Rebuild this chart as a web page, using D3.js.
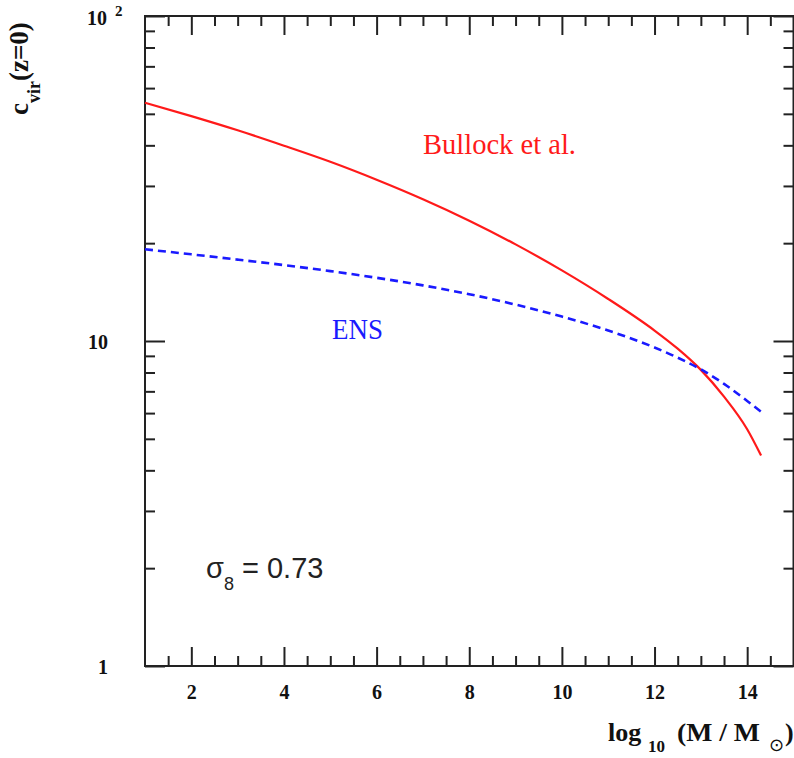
<!DOCTYPE html>
<html>
<head>
<meta charset="utf-8">
<script src="https://cdn.jsdelivr.net/npm/d3@7/dist/d3.min.js"></script>
<style>
  html, body { margin: 0; padding: 0; background: #fff; }
  svg { display: block; }
</style>
</head>
<body>
<svg id="chart" width="794" height="758"></svg>
<script>
// log10 of halo mass (solar masses)
const logMass = [1, 2, 3, 4, 5, 6, 7, 8, 9, 10, 11, 12, 12.5, 13, 13.5, 14, 14.3];
// virial concentration at z = 0
const cvirBullock = [54.1, 49.2, 44.5, 39.9, 35.6, 31.35, 27.3, 23.45, 19.83, 16.49, 13.47, 10.77, 9.47, 8.15, 6.74, 5.35, 4.44];
const cvirENS     = [19.15, 18.48, 17.80, 17.12, 16.41, 15.65, 14.83, 13.93, 12.94, 11.89, 10.77, 9.55, 8.89, 8.18, 7.38, 6.54, 6.06];

const xMajorTicks = [2, 4, 6, 8, 10, 12, 14];
const xMinorTicks = [1.5, 2.5, 3, 3.5, 4.5, 5, 5.5, 6.5, 7, 7.5, 8.5, 9, 9.5, 10.5, 11, 11.5, 12.5, 13, 13.5, 14.5];
const xTickLabels = ["2", "4", "6", "8", "10", "12", "14"];
const yMajorTicks = [1, 10, 100];
const yMinorTicks = [2, 3, 4, 5, 6, 7, 8, 9, 20, 30, 40, 50, 60, 70, 80, 90];
const yTickLabels = ["1", "10", "10"];

const plotLeft = 145, plotRight = 793.5, plotTop = 16, plotBottom = 666;
const svg = d3.select("#chart");

const x = d3.scaleLinear().domain([1, 15]).range([plotLeft, plotRight]);
const y = d3.scaleLog().domain([1, 100]).range([plotBottom, plotTop]);

const axisColor = "#222";
const serif = "'Liberation Serif', 'Times New Roman', serif";

function styleAxis(g) {
  g.select(".domain").remove();
  g.selectAll(".tick line").attr("stroke", axisColor).attr("stroke-width", 2);
  g.selectAll("text").attr("fill", "#111").attr("font-family", serif)
    .attr("font-weight", "bold").attr("font-size", 20);
}

// bottom axis: labelled major ticks plus minor ticks, all pointing inward
const gBottom = svg.append("g").attr("transform", `translate(0,${plotBottom})`)
  .call(d3.axisBottom(x).tickValues(xMajorTicks).tickSizeInner(-19).tickSizeOuter(0)
    .tickPadding(0).tickFormat((d, i) => xTickLabels[i]))
  .call(styleAxis);
gBottom.selectAll("text").attr("y", 33).attr("dy", 0);
svg.append("g").attr("transform", `translate(0,${plotBottom})`)
  .call(d3.axisBottom(x).tickValues(xMinorTicks).tickSizeInner(-10).tickSizeOuter(0).tickFormat(""))
  .call(styleAxis);

// top axis (ticks only)
svg.append("g").attr("transform", `translate(0,${plotTop})`)
  .call(d3.axisTop(x).tickValues(xMajorTicks).tickSizeInner(-19).tickSizeOuter(0).tickFormat(""))
  .call(styleAxis);
svg.append("g").attr("transform", `translate(0,${plotTop})`)
  .call(d3.axisTop(x).tickValues(xMinorTicks).tickSizeInner(-10).tickSizeOuter(0).tickFormat(""))
  .call(styleAxis);

// left axis with decade labels
const gLeft = svg.append("g").attr("transform", `translate(${plotLeft},0)`)
  .call(d3.axisLeft(y).tickValues(yMajorTicks).tickSizeInner(-20).tickSizeOuter(0)
    .tickPadding(37).tickFormat((d, i) => yTickLabels[i]))
  .call(styleAxis);
gLeft.selectAll(".tick text").attr("dy", "0.36em");
// the top decade is written as 10 with a raised exponent
gLeft.selectAll(".tick text").filter(d => d === 100)
  .attr("text-anchor", "start").attr("x", -58).attr("dy", 8)
  .append("tspan").attr("dx", 8).attr("dy", -9).attr("font-size", 15).text("2");
svg.append("g").attr("transform", `translate(${plotLeft},0)`)
  .call(d3.axisLeft(y).tickValues(yMinorTicks).tickSizeInner(-10).tickSizeOuter(0).tickFormat(""))
  .call(styleAxis);

// right axis (ticks only)
svg.append("g").attr("transform", `translate(${plotRight},0)`)
  .call(d3.axisRight(y).tickValues(yMajorTicks).tickSizeInner(-20).tickSizeOuter(0).tickFormat(""))
  .call(styleAxis);
svg.append("g").attr("transform", `translate(${plotRight},0)`)
  .call(d3.axisRight(y).tickValues(yMinorTicks).tickSizeInner(-10).tickSizeOuter(0).tickFormat(""))
  .call(styleAxis);

// frame
svg.append("rect").attr("x", plotLeft).attr("y", plotTop)
  .attr("width", plotRight - plotLeft).attr("height", plotBottom - plotTop)
  .attr("fill", "none").attr("stroke", axisColor).attr("stroke-width", 2);

// curves
const line = d3.line().x(d => x(d[0])).y(d => y(d[1])).curve(d3.curveMonotoneX);
svg.append("path").datum(logMass.map((m, i) => [m, cvirBullock[i]]))
  .attr("d", line).attr("fill", "none").attr("stroke", "#ff1a1a").attr("stroke-width", 2.2);
svg.append("path").datum(logMass.map((m, i) => [m, cvirENS[i]]))
  .attr("d", line).attr("fill", "none").attr("stroke", "#1a1aff").attr("stroke-width", 2.6)
  .attr("stroke-dasharray", "8,5");

// curve labels
svg.append("text").attr("x", 423).attr("y", 154).attr("font-family", serif)
  .attr("font-size", 29).attr("fill", "#ff1a1a")
  .attr("textLength", 153).attr("lengthAdjust", "spacingAndGlyphs").text("Bullock et al.");
svg.append("text").attr("x", 332).attr("y", 339).attr("font-family", serif)
  .attr("font-size", 30).attr("fill", "#1a1aff")
  .attr("textLength", 51).attr("lengthAdjust", "spacingAndGlyphs").text("ENS");

// normalisation note
const sig = svg.append("text").attr("x", 206).attr("y", 578)
  .attr("font-family", "'Liberation Sans', Arial, sans-serif").attr("font-size", 29).attr("fill", "#222");
sig.append("tspan").text("σ");
sig.append("tspan").attr("font-size", 18).attr("dy", 12).text("8");
sig.append("tspan").attr("dy", -12).text(" = 0.73");

// axis titles
const xt = svg.append("text").attr("y", 741)
  .attr("font-family", serif).attr("font-weight", "bold").attr("font-size", 26).attr("fill", "#111");
xt.append("tspan").attr("x", 608).text("log");
xt.append("tspan").attr("x", 648).attr("font-size", 17).attr("dy", 11).text("10");
xt.append("tspan").attr("x", 677).attr("dy", -11)
  .attr("textLength", 83).attr("lengthAdjust", "spacingAndGlyphs").text("(M / M");
xt.append("tspan").attr("x", 769).attr("font-size", 18).attr("dy", 10)
  .attr("font-family", "'DejaVu Sans', sans-serif").attr("font-weight", "normal").text("⊙");
xt.append("tspan").attr("x", 785).attr("dy", -10).text(")");

const yt = svg.append("text").attr("transform", "translate(28,115) rotate(-90)")
  .attr("font-family", serif).attr("font-weight", "bold").attr("font-size", 27).attr("fill", "#111");
yt.append("tspan").text("c");
yt.append("tspan").attr("font-size", 18).attr("dy", 12).text("vir");
yt.append("tspan").attr("dy", -12).text("(z=0)");
</script>
</body>
</html>
